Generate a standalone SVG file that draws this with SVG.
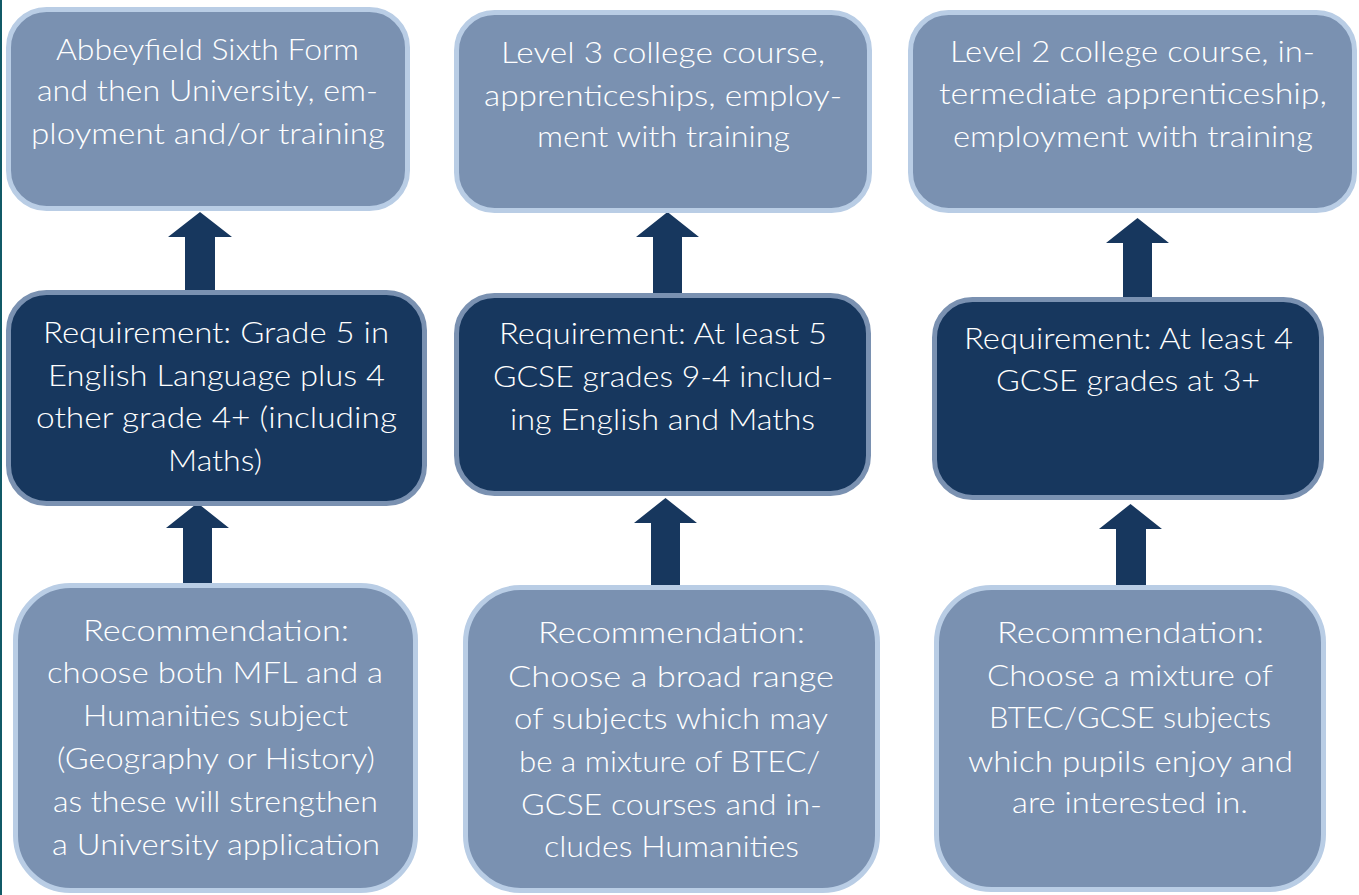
<svg xmlns="http://www.w3.org/2000/svg" width="1359" height="895" viewBox="0 0 1359 895">
<style>
.light{fill:#7a91b1;stroke:#b9cde5;stroke-width:5}
.dark{fill:#17375e;stroke:#7a91b1;stroke-width:5}
.arrow{fill:#17375e}
text{font-family:"Lato","Noto Sans","Liberation Sans",sans-serif;font-weight:300;font-size:29px;fill:#ffffff;text-anchor:middle}
</style>
<rect x="0" y="0" width="1359" height="895" fill="#ffffff"/>
<rect x="0" y="0" width="2" height="895" fill="#115a67"/>
<g id="connectors">
<polygon class="arrow" points="200,212 232,237 215,237 215,293 185,293 185,237 168,237"/>
<polygon class="arrow" points="197.5,503 229,528 212,528 212,586 183,586 183,528 166,528"/>
<polygon class="arrow" points="667.5,212 699,237 682,237 682,295 653,295 653,237 636,237"/>
<polygon class="arrow" points="665.5,498 697,523 680,523 680,587 651,587 651,523 634,523"/>
<polygon class="arrow" points="1137.5,218 1169,243 1152,243 1152,299 1123,299 1123,243 1106,243"/>
<polygon class="arrow" points="1130.5,504 1162,529 1146,529 1146,587 1116,587 1116,529 1099,529"/>
</g>
<g id="node-sixthform">
<rect class="light" x="8.5" y="9.5" width="399" height="199" rx="38"/>
<text x="207.5" y="60" textLength="303" lengthAdjust="spacingAndGlyphs">Abbeyfield Sixth Form</text>
<text x="207.5" y="101" textLength="341" lengthAdjust="spacingAndGlyphs">and then University, em-</text>
<text x="208" y="144" textLength="354" lengthAdjust="spacingAndGlyphs">ployment and/or training</text>
</g>
<g id="node-level3">
<rect class="light" x="456.5" y="12.5" width="413" height="198" rx="38"/>
<text x="663" y="63" textLength="324" lengthAdjust="spacingAndGlyphs">Level 3 college course,</text>
<text x="663" y="106" textLength="358" lengthAdjust="spacingAndGlyphs">apprenticeships, employ-</text>
<text x="663.5" y="147" textLength="253" lengthAdjust="spacingAndGlyphs">ment with training</text>
</g>
<g id="node-level2">
<rect class="light" x="910.5" y="12.5" width="444" height="198" rx="38"/>
<text x="1132.5" y="62" textLength="365" lengthAdjust="spacingAndGlyphs">Level 2 college course, in-</text>
<text x="1133" y="104" textLength="388" lengthAdjust="spacingAndGlyphs">termediate apprenticeship,</text>
<text x="1133" y="147" textLength="360" lengthAdjust="spacingAndGlyphs">employment with training</text>
</g>
<g id="node-req-grade5">
<rect class="dark" x="8.5" y="292.5" width="416" height="211" rx="38"/>
<text x="216" y="343" textLength="346" lengthAdjust="spacingAndGlyphs">Requirement: Grade 5 in</text>
<text x="216.5" y="386" textLength="337" lengthAdjust="spacingAndGlyphs">English Language plus 4</text>
<text x="216.5" y="428" textLength="361" lengthAdjust="spacingAndGlyphs">other grade 4+ (including</text>
<text x="215" y="471" textLength="94" lengthAdjust="spacingAndGlyphs">Maths)</text>
</g>
<g id="node-req-5gcse">
<rect class="dark" x="456.5" y="295.5" width="412" height="198" rx="38"/>
<text x="663" y="344" textLength="328" lengthAdjust="spacingAndGlyphs">Requirement: At least 5</text>
<text x="663" y="387" textLength="340" lengthAdjust="spacingAndGlyphs">GCSE grades 9-4 includ-</text>
<text x="662.5" y="430" textLength="305" lengthAdjust="spacingAndGlyphs">ing English and Maths</text>
</g>
<g id="node-req-4gcse">
<rect class="dark" x="934.5" y="299.5" width="387" height="198" rx="38"/>
<text x="1128.5" y="349" textLength="329" lengthAdjust="spacingAndGlyphs">Requirement: At least 4</text>
<text x="1128" y="391" textLength="264" lengthAdjust="spacingAndGlyphs">GCSE grades at 3+</text>
</g>
<g id="node-rec-mfl">
<rect class="light" x="15.5" y="585.5" width="400" height="305" rx="55"/>
<text x="216" y="641" textLength="266" lengthAdjust="spacingAndGlyphs">Recommendation:</text>
<text x="215" y="683" textLength="336" lengthAdjust="spacingAndGlyphs">choose both MFL and a</text>
<text x="215.5" y="726" textLength="265" lengthAdjust="spacingAndGlyphs">Humanities subject</text>
<text x="216" y="769" textLength="318" lengthAdjust="spacingAndGlyphs">(Geography or History)</text>
<text x="215.5" y="812" textLength="325" lengthAdjust="spacingAndGlyphs">as these will strengthen</text>
<text x="216" y="855" textLength="328" lengthAdjust="spacingAndGlyphs">a University application</text>
</g>
<g id="node-rec-broad">
<rect class="light" x="465.5" y="587.5" width="412" height="303" rx="55"/>
<text x="671.5" y="643" textLength="267" lengthAdjust="spacingAndGlyphs">Recommendation:</text>
<text x="671" y="687" textLength="326" lengthAdjust="spacingAndGlyphs">Choose a broad range</text>
<text x="671" y="729" textLength="314" lengthAdjust="spacingAndGlyphs">of subjects which may</text>
<text x="669.5" y="772" textLength="301" lengthAdjust="spacingAndGlyphs">be a mixture of BTEC/</text>
<text x="671.5" y="815" textLength="301" lengthAdjust="spacingAndGlyphs">GCSE courses and in-</text>
<text x="671.5" y="857" textLength="255" lengthAdjust="spacingAndGlyphs">cludes Humanities</text>
</g>
<g id="node-rec-mixture">
<rect class="light" x="936.5" y="587.5" width="387" height="302" rx="55"/>
<text x="1130.5" y="643" textLength="267" lengthAdjust="spacingAndGlyphs">Recommendation:</text>
<text x="1130" y="686" textLength="286" lengthAdjust="spacingAndGlyphs">Choose a mixture of</text>
<text x="1130" y="728" textLength="282" lengthAdjust="spacingAndGlyphs">BTEC/GCSE subjects</text>
<text x="1130.5" y="772" textLength="325" lengthAdjust="spacingAndGlyphs">which pupils enjoy and</text>
<text x="1130" y="813" textLength="236" lengthAdjust="spacingAndGlyphs">are interested in.</text>
</g>
</svg>
